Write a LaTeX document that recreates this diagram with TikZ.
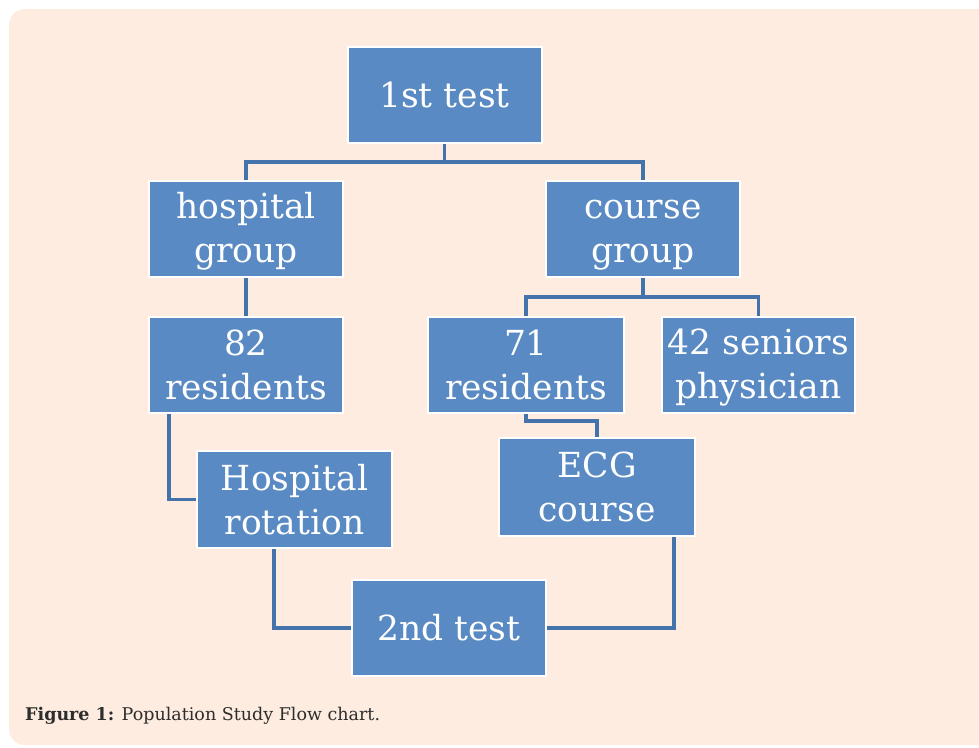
\documentclass[tikz,border=0pt]{standalone}
\usepackage{fontspec}
\setmainfont{DejaVu Serif}
\newfontfamily\boxfont{DejaVu Serif}
\definecolor{peach}{RGB}{253,236,223}
\definecolor{boxblue}{RGB}{89,138,195}
\definecolor{lineblue}{RGB}{68,115,172}
\definecolor{captext}{RGB}{45,45,45}
\newcommand{\twolines}[2]{\rule{0pt}{30.8pt}#1\\#2\rule[-5.2pt]{0pt}{5.2pt}}
\begin{document}
\begin{tikzpicture}[x=1pt,y=-1pt,
  flowbox/.style={draw=white, line width=2pt, fill=boxblue, text=white,
    minimum width=194pt, minimum height=96pt, inner sep=0pt, align=center,
    font=\boxfont\fontsize{34.5}{44}\selectfont},
  conn/.style={draw=lineblue, line width=3.5pt}]
\useasboundingbox (0,0) rectangle (979,747);
\fill[white] (0,0) rectangle (979,747);
\fill[peach, rounded corners=16pt] (9,9) rectangle (1010,745);

\node[flowbox] (t1) at (444.5,95) {1st test};
\node[flowbox] (hg) at (246,229) {\twolines{hospital}{group}};
\node[flowbox] (cg) at (643,229) {\twolines{course}{group}};
\node[flowbox] (r82) at (246,365) {\twolines{82}{residents}};
\node[flowbox, minimum width=196pt] (r71) at (526,365) {\twolines{71}{residents}};
\node[flowbox, minimum width=193pt] (sen) at (758.5,365) {\twolines{42 seniors}{physician}};
\node[flowbox, minimum width=195pt, minimum height=97pt] (hr) at (294.5,499.5) {\twolines{Hospital}{rotation}};
\node[flowbox, minimum width=196pt, minimum height=98pt] (ecg) at (597,487) {\twolines{ECG}{course}};
\node[flowbox] (t2) at (449,628) {2nd test};

\coordinate (j1) at (444.5,162);
\coordinate (j2) at (643,297);
\coordinate (j3) at (526,421);

\draw[conn] (t1.south) -- (j1) -| (hg.north);
\draw[conn] (j1) -| (cg.north);
\draw[conn] (hg.south) -- (r82.north);
\draw[conn] ([xshift=-77pt]r82.south) |- (hr.west);
\draw[conn] (cg.south) -- (j2) -| (r71.north);
\draw[conn] (j2) -| (sen.north);
\draw[conn] (r71.south) -- (j3) -| (ecg.north);
\draw[conn] ([xshift=-20.5pt]hr.south) |- (t2.west);
\draw[conn] (t2.east) -| ([xshift=77pt]ecg.south);

\node[anchor=west, text=captext, font=\fontsize{17.5}{21}\selectfont, inner sep=0pt] (cap) at (25,716)
  {\textbf{Figure 1:} Population Study Flow chart.};
\end{tikzpicture}
\end{document}
